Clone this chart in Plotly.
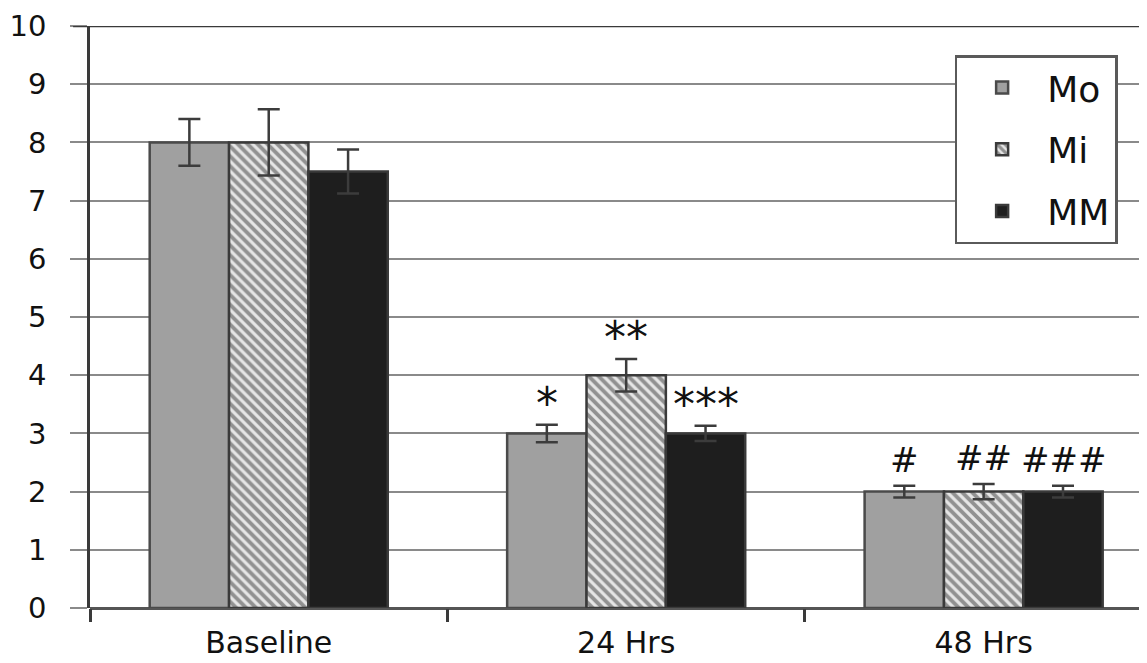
import plotly.graph_objects as go

categories = ["Baseline", "24 Hrs", "48 Hrs"]
series_names = ["Mo", "Mi", "MM"]
mo_values = [8.0, 3.0, 2.0]
mi_values = [8.0, 4.0, 2.0]
mm_values = [7.5, 3.0, 2.0]
mo_err = [0.4, 0.15, 0.1]
mi_err = [0.57, 0.28, 0.13]
mm_err = [0.38, 0.13, 0.1]
mo_marks = ["", "*", "#"]
mi_marks = ["", "**", "##"]
mm_marks = ["", "***", "###"]
y_ticks = [0, 1, 2, 3, 4, 5, 6, 7, 8, 9, 10]

FONT = "DejaVu Sans"
x_pos = list(range(len(categories)))

fig = go.Figure()
styles = [
    dict(color="#a0a0a0", line=dict(color="#4a4a4a", width=2.5)),
    dict(color="#ffffff", line=dict(color="#3a3a3a", width=2.5),
         pattern=dict(shape="\\", fgcolor="#3c3c3c", bgcolor="#e6e6e6", size=7, solidity=0.55)),
    dict(color="#1e1e1e", line=dict(color="#3a3a3a", width=2.5)),
]
for name, vals, errs, st in zip(series_names, [mo_values, mi_values, mm_values],
                                [mo_err, mi_err, mm_err], styles):
    fig.add_trace(go.Bar(
        x=x_pos, y=vals, name=name, marker=st, legendgroup=name,
        error_y=dict(type="data", array=errs, visible=True, color="#3c3c3c",
                     thickness=2.5, width=11),
    ))

bar_w = 0.222
offsets = [-bar_w, 0, bar_w]
for off, vals, errs, marks in zip(offsets, [mo_values, mi_values, mm_values],
                                  [mo_err, mi_err, mm_err], [mo_marks, mi_marks, mm_marks]):
    for i, m in enumerate(marks):
        if not m:
            continue
        fig.add_annotation(
            x=x_pos[i] + off, y=vals[i] + errs[i], text=m, showarrow=False,
            xref="x", yref="y", yanchor="bottom", yshift=4 if m.startswith("#") else -6,
            font=dict(family=FONT, size=34 if m.startswith("#") else 44, color="#111"),
        )

fig.add_shape(type="line", xref="paper", yref="y", x0=-0.016, x1=1, y0=10, y1=10,
              line=dict(color="#3a3a3a", width=2.5))

# page body has an 8px default margin, so the figure is offset by 8px
fig.update_layout(
    width=1139, height=655,
    margin=dict(l=82, r=0, t=18, b=55),
    paper_bgcolor="white", plot_bgcolor="white",
    bargap=0.334, barmode="group",
    font=dict(family=FONT, color="#111"),
    legend=dict(
        x=0.818, y=0.95, xanchor="left", yanchor="top",
        bgcolor="white", bordercolor="#5a5a5a", borderwidth=2.5,
        font=dict(size=36, family=FONT, color="#111"),
        tracegroupgap=12, itemwidth=80,
    ),
    xaxis=dict(
        range=[-0.5, 2.457], tickvals=x_pos, ticktext=categories,
        ticks="", showgrid=False, zeroline=False, showline=False, automargin=False,
        tickfont=dict(size=30, family=FONT, color="#111"),
        ticklabelstandoff=14,
        minor=dict(tickvals=[-0.5, 0.5, 1.5], ticks="outside", ticklen=13,
                   tickcolor="#3a3a3a", tickwidth=2.5, showgrid=False),
    ),
    yaxis=dict(
        range=[0, 10], tickvals=y_ticks, ticks="outside", ticklen=17,
        tickcolor="#8a8a8a", tickwidth=2, automargin=False,
        showgrid=True, gridcolor="#8a8a8a", gridwidth=2,
        zeroline=True, zerolinecolor="#555", zerolinewidth=2.5,
        showline=True, linecolor="#3a3a3a", linewidth=2.5,
        tickfont=dict(size=29, family=FONT, color="#111"),
        ticklabelstandoff=18, ticklabeloverflow="allow",
    ),
)

fig.write_html("out.html")
